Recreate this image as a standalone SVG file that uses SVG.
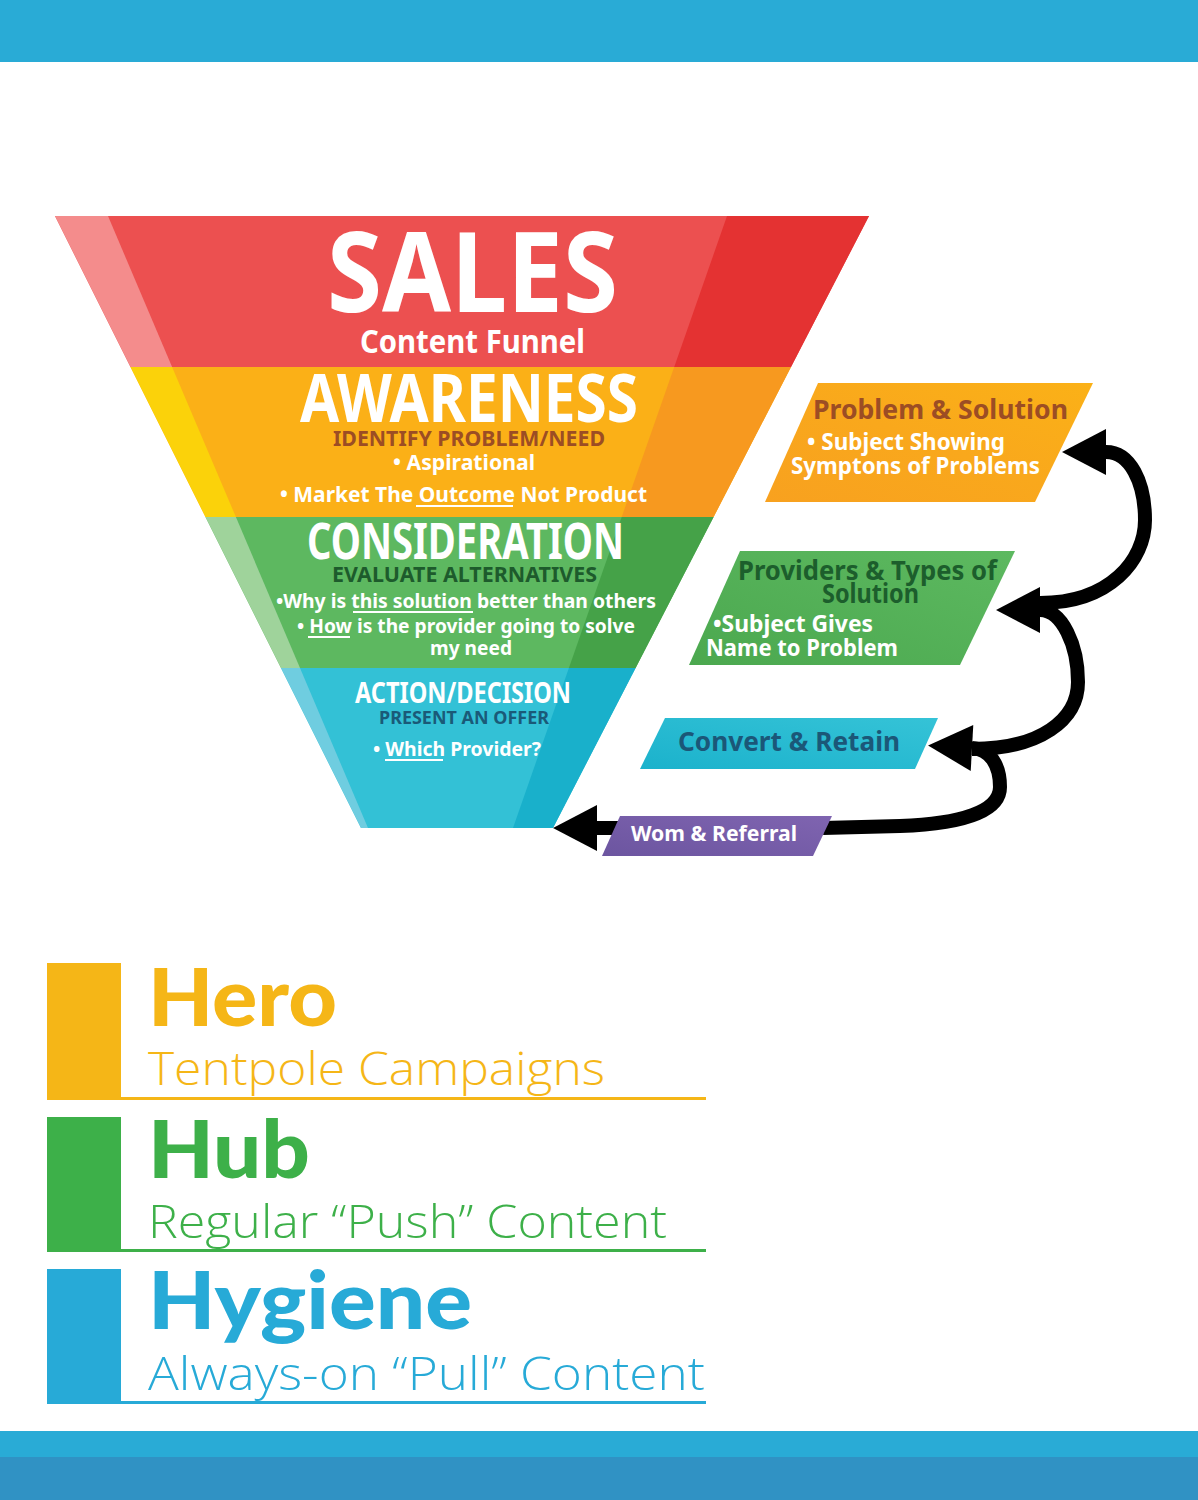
<svg xmlns="http://www.w3.org/2000/svg" width="1198" height="1500" viewBox="0 0 1198 1500">
<style>
.f{font-family:"Noto Sans","Open Sans","Liberation Sans",sans-serif;font-weight:700}
.w{fill:#ffffff}
.big{font-family:Lato,"Noto Sans","Liberation Sans",sans-serif;font-weight:900}
.thin{font-family:"Open Sans",Lato,"Liberation Sans",sans-serif;font-weight:300}
.ul{stroke:#ffffff;stroke-width:2}
.conn{fill:none;stroke:#000;stroke-width:14}
</style>
<defs>
<marker id="ah" markerUnits="userSpaceOnUse" markerWidth="46" markerHeight="46" refX="0" refY="23" orient="auto" overflow="visible">
<path d="M0,0 L44,23 L0,46 z" fill="#000"/>
</marker>
<linearGradient id="gO" x1="0" y1="1" x2="1" y2="0"><stop offset="0" stop-color="#f8a11f"/><stop offset="0.5" stop-color="#f9a81c"/><stop offset="1" stop-color="#fbb117"/></linearGradient>
<linearGradient id="gG" x1="0" y1="1" x2="1" y2="0"><stop offset="0" stop-color="#4ba84f"/><stop offset="1" stop-color="#5db960"/></linearGradient>
<linearGradient id="gC" x1="0" y1="1" x2="1" y2="0"><stop offset="0" stop-color="#1bb2cc"/><stop offset="1" stop-color="#35c3d7"/></linearGradient>
<linearGradient id="gP" x1="0" y1="1" x2="1" y2="0"><stop offset="0" stop-color="#6c55a0"/><stop offset="1" stop-color="#7f64b0"/></linearGradient>
</defs>

<rect x="0" y="0" width="1198" height="62" fill="#29abd6"/>
<rect x="0" y="1431" width="1198" height="26" fill="#29abd6"/>
<rect x="0" y="1457" width="1198" height="43" fill="#3092c4"/>

<g id="funnel">
<g id="sales">
<polygon points="55,216 869,216 791,367 130.5,367" fill="#ec5050"/>
<polygon points="55,216 108,216 172.1,367 130.5,367" fill="#f48c8c"/>
<polygon points="727,216 869,216 791,367 674.2,367" fill="#e43232"/>
<text class="f w" x="327" y="312" font-size="112" textLength="291" lengthAdjust="spacingAndGlyphs">SALES</text>
<text class="f w" x="360" y="353" font-size="32" textLength="225" lengthAdjust="spacingAndGlyphs">Content Funnel</text>
</g>
<g id="awareness">
<polygon points="130.5,367 791,367 713.6,517 205.5,517" fill="#fbb017"/>
<polygon points="130.5,367 172.1,367 235.9,517 205.5,517" fill="#fbd20a"/>
<polygon points="674.2,367 791,367 713.6,517 621.7,517" fill="#f7991f"/>
<text class="f w" x="300" y="422" font-size="66" textLength="338" lengthAdjust="spacingAndGlyphs">AWARENESS</text>
<text class="f" fill="#9c4d24" x="333" y="446" font-size="22" textLength="272" lengthAdjust="spacingAndGlyphs">IDENTIFY PROBLEM/NEED</text>
<text class="f w" x="393" y="470" font-size="22" textLength="142" lengthAdjust="spacingAndGlyphs">• Aspirational</text>
<text class="f w" x="280" y="502" font-size="22" textLength="367" lengthAdjust="spacingAndGlyphs">• Market The Outcome Not Product</text>
<line class="ul" x1="416" y1="506" x2="513" y2="506"/>
</g>
<g id="consideration">
<polygon points="205.5,517 713.6,517 635.6,668 281,668" fill="#5db860"/>
<polygon points="205.5,517 235.9,517 300,668 281,668" fill="#9fd39b"/>
<polygon points="621.7,517 713.6,517 635.6,668 568.9,668" fill="#45a248"/>
<text class="f w" x="307" y="559" font-size="50" textLength="317" lengthAdjust="spacingAndGlyphs">CONSIDERATION</text>
<text class="f" fill="#1d5b2c" x="332" y="582" font-size="21" textLength="265" lengthAdjust="spacingAndGlyphs">EVALUATE ALTERNATIVES</text>
<text class="f w" x="276" y="608" font-size="20" textLength="380" lengthAdjust="spacingAndGlyphs">•Why is this solution better than others</text>
<line class="ul" x1="353" y1="612" x2="473" y2="612"/>
<text class="f w" x="297" y="633" font-size="20" textLength="338" lengthAdjust="spacingAndGlyphs">• How is the provider going to solve</text>
<line class="ul" x1="308" y1="637" x2="350" y2="637"/>
<text class="f w" x="430" y="655" font-size="20" textLength="82" lengthAdjust="spacingAndGlyphs">my need</text>
</g>
<g id="action">
<polygon points="281,668 635.6,668 553,828 361,828" fill="#33c1d6"/>
<polygon points="281,668 300,668 368,828 361,828" fill="#6fcde0"/>
<polygon points="568.9,668 635.6,668 553,828 513,828" fill="#19b0cb"/>
<text class="f w" x="355" y="703" font-size="29" textLength="216" lengthAdjust="spacingAndGlyphs">ACTION/DECISION</text>
<text class="f" fill="#1a5a78" x="379" y="724" font-size="17" textLength="170" lengthAdjust="spacingAndGlyphs">PRESENT AN OFFER</text>
<text class="f w" x="373" y="756" font-size="20" textLength="168" lengthAdjust="spacingAndGlyphs">• Which Provider?</text>
<line class="ul" x1="385" y1="760" x2="443" y2="760"/>
</g>
</g>

<g id="connectors">
<path class="conn" d="M1040,603 C1110,603 1145,560 1145,520 C1145,482 1130,452 1106,452" marker-end="url(#ah)"/>
<path class="conn" d="M972,749 C1040,749 1078,720 1078,682 C1078,645 1062,610 1040,610" marker-end="url(#ah)"/>
<path class="conn" d="M823,828 L900,826 C960,824 1000,812 1000,787 C1000,765 990,749 972,748" marker-end="url(#ah)"/>
<path class="conn" d="M620,828 L597,828" marker-end="url(#ah)"/>
</g>

<g id="problem-solution">
<polygon points="818,383 1093,383 1035,502 765,502" fill="url(#gO)"/>
<text class="f" fill="#9c4d24" x="813" y="419" font-size="27" textLength="255" lengthAdjust="spacingAndGlyphs">Problem &amp; Solution</text>
<text class="f w" x="807" y="450" font-size="23" textLength="198" lengthAdjust="spacingAndGlyphs">• Subject Showing</text>
<text class="f w" x="791" y="474" font-size="23" textLength="249" lengthAdjust="spacingAndGlyphs">Symptons of Problems</text>
</g>
<g id="providers">
<polygon points="740,551 1015,551 960,665 689,665" fill="url(#gG)"/>
<text class="f" fill="#1c5e2c" x="738" y="580" font-size="26" textLength="259" lengthAdjust="spacingAndGlyphs">Providers &amp; Types of</text>
<text class="f" fill="#1c5e2c" x="822" y="603" font-size="26" textLength="97" lengthAdjust="spacingAndGlyphs">Solution</text>
<text class="f w" x="713" y="632" font-size="23" textLength="160" lengthAdjust="spacingAndGlyphs">•Subject Gives</text>
<text class="f w" x="706" y="656" font-size="23" textLength="192" lengthAdjust="spacingAndGlyphs">Name to Problem</text>
</g>
<g id="convert">
<polygon points="665,718 938,718 915,769 640,769" fill="url(#gC)"/>
<text class="f" fill="#1b5778" x="678" y="751" font-size="27" textLength="222" lengthAdjust="spacingAndGlyphs">Convert &amp; Retain</text>
</g>
<g id="wom">
<polygon points="620,816 832,816 813,856 602,856" fill="url(#gP)"/>
<text class="f w" x="631" y="841" font-size="22" textLength="166" lengthAdjust="spacingAndGlyphs">Wom &amp; Referral</text>
</g>

<g id="hero">
<rect x="47" y="963" width="74" height="137" fill="#f5b617"/>
<rect x="121" y="1097" width="585" height="3" fill="#f5b617"/>
<text class="big" fill="#f5b617" x="148" y="1026" font-size="80" textLength="189" lengthAdjust="spacingAndGlyphs">Hero</text>
<text class="thin" fill="#f5b617" x="148" y="1085" font-size="46" textLength="457" lengthAdjust="spacingAndGlyphs">Tentpole Campaigns</text>
</g>
<g id="hub">
<rect x="47" y="1117" width="74" height="135" fill="#3db049"/>
<rect x="121" y="1249" width="585" height="3" fill="#3db049"/>
<text class="big" fill="#3db049" x="148" y="1178" font-size="80" textLength="162" lengthAdjust="spacingAndGlyphs">Hub</text>
<text class="thin" fill="#3db049" x="148" y="1238" font-size="46" textLength="519" lengthAdjust="spacingAndGlyphs">Regular “Push” Content</text>
</g>
<g id="hygiene">
<rect x="47" y="1269" width="74" height="135" fill="#27aad7"/>
<rect x="121" y="1401" width="585" height="3" fill="#27aad7"/>
<text class="big" fill="#27aad7" x="148" y="1329" font-size="80" textLength="324" lengthAdjust="spacingAndGlyphs">Hygiene</text>
<text class="thin" fill="#27aad7" x="148" y="1390" font-size="46" textLength="557" lengthAdjust="spacingAndGlyphs">Always-on “Pull” Content</text>
</g>
</svg>
